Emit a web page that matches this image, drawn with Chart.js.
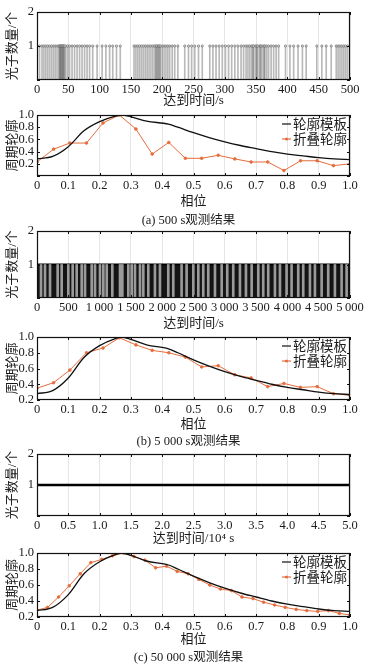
<!DOCTYPE html>
<html>
<head>
<meta charset="utf-8">
<script src="https://cdn.jsdelivr.net/npm/chart.js@4.4.0/dist/chart.umd.min.js"></script>
<style>
  body { margin: 0; background: #fff; width: 369px; height: 669px; position: relative; overflow: hidden; }
  canvas { position: absolute; left: 0; }
  .cap { position: absolute; left: 0; width: 369px; text-align: center; font: 12.5px 'Liberation Serif', 'Noto Sans CJK SC', serif; color: #1a1a1a; line-height: 14px; }
</style>
</head>
<body>
<canvas id="c1" width="369" height="106" style="top:2px"></canvas>
<canvas id="c2" width="369" height="104" style="top:105px"></canvas>
<div class="cap" style="top:213px;left:4px">(a) 500 s观测结果</div>
<canvas id="c3" width="369" height="110" style="top:221px"></canvas>
<canvas id="c4" width="369" height="105" style="top:327px"></canvas>
<div class="cap" style="top:434px;left:4px">(b) 5 000 s观测结果</div>
<canvas id="c5" width="369" height="102" style="top:444px"></canvas>
<canvas id="c6" width="369" height="104" style="top:543px"></canvas>
<div class="cap" style="top:650px;left:4px">(c) 50 000 s观测结果</div>
<script>
// photon arrival times in the 500 s record (s)
const arrivals500 = [4, 8, 11, 14, 17, 20, 23, 26, 29, 32, 35, 36, 37, 38, 39, 40, 41, 42, 43, 44, 46, 49, 52, 56, 60, 64, 68, 72, 76, 80, 84, 89,
  96, 104, 110, 116, 121, 127, 133,
  155, 158, 161, 164, 167, 170, 173, 176, 179, 182, 185, 188, 190, 191, 193, 194, 196, 197, 200, 203, 206, 209, 212, 216, 220, 225,
  236, 242, 247, 252, 258, 264,
  276, 281, 286, 291, 296, 301, 306, 311, 316, 321,
  326, 330, 334, 337, 340, 343, 345, 346, 349, 351, 352, 355, 357, 358, 361, 363, 364, 367, 370, 374, 378, 382, 386,
  397, 404, 410, 417, 424, 430,
  447, 455, 462, 470,
  478, 481, 484, 487, 490, 493, 496];
// 5 000 s record: span of the record and the thin empty stretches between arrivals (s)
const record5000 = [0, 5000];
const gaps5000 = [64, 128, 208, 330, 394, 500, 570, 634, 714, 767, 874, 927, 1006, 1060, 1114, 1203, 1326, 1363, 1459, 1512, 1565, 1645,
  1698, 1778, 1884, 1964, 2097, 2177, 2310, 2390, 2497, 2577, 2656, 2736, 2843, 2950, 3039, 3135, 3242, 3338,
  3429, 3535, 3614, 3694, 3801, 3881, 3987, 4067, 4173, 4253, 4360, 4440, 4547, 4652, 4759, 4866, 4946];
// 50 000 s record: arrivals merge into one continuous run (10^4 s)
const record50000 = [0, 5.0];

// standard pulse profile template
const templatePhase = [0, 0.05, 0.1, 0.15, 0.2, 0.25, 0.27, 0.3, 0.35, 0.42, 0.45, 0.5, 0.55, 0.6, 0.65, 0.7, 0.75, 0.8, 0.85, 0.9, 0.95, 1.0];
const templateValue = [0.28, 0.32, 0.48, 0.74, 0.89, 0.98, 1.0, 0.97, 0.90, 0.85, 0.80, 0.71, 0.63, 0.56, 0.50, 0.45, 0.40, 0.36, 0.33, 0.30, 0.28, 0.27];

// folded profiles
const phase20 = [0, 0.053, 0.105, 0.158, 0.211, 0.263, 0.316, 0.368, 0.421, 0.474, 0.526, 0.579, 0.632, 0.684, 0.737, 0.789, 0.842, 0.895, 0.947, 1.0];
const folded500 = [0.23, 0.44, 0.54, 0.54, 0.87, 1.0, 0.77, 0.36, 0.55, 0.29, 0.29, 0.34, 0.28, 0.23, 0.23, 0.09, 0.25, 0.25, 0.17, 0.20];
const folded5000 = [0.35, 0.42, 0.58, 0.80, 0.86, 0.99, 0.90, 0.83, 0.80, 0.745, 0.62, 0.635, 0.52, 0.48, 0.37, 0.41, 0.36, 0.37, 0.28, 0.26];
const phase30 = [0, 0.034, 0.069, 0.103, 0.138, 0.172, 0.207, 0.241, 0.276, 0.310, 0.345, 0.379, 0.414, 0.448, 0.483, 0.517, 0.552, 0.586,
  0.621, 0.655, 0.690, 0.724, 0.759, 0.793, 0.828, 0.862, 0.897, 0.931, 0.966, 1.0];
const folded50000 = [0.286, 0.32, 0.45, 0.59, 0.74, 0.88, 0.92, 0.965, 1.0, 0.955, 0.91, 0.815, 0.835, 0.77, 0.74, 0.67, 0.60, 0.55, 0.53,
  0.45, 0.43, 0.385, 0.35, 0.32, 0.295, 0.28, 0.27, 0.28, 0.245, 0.225];

const ORANGE = '#e66d3c';
Chart.defaults.font.family = "'Liberation Serif', 'Noto Sans CJK SC', serif";
Chart.defaults.color = '#1a1a1a';

function line(ctx, x1, y1, x2, y2) {
  ctx.beginPath(); ctx.moveTo(x1, y1); ctx.lineTo(x2, y2); ctx.stroke();
}

// black box round the plot with short inward ticks
const framePlugin = {
  id: 'frame',
  afterDatasetsDraw(chart) {
    const { ctx, chartArea: a, scales } = chart;
    ctx.save();
    ctx.strokeStyle = '#111';
    ctx.lineWidth = 1;
    scales.x.ticks.forEach(t => {
      const x = Math.round(scales.x.getPixelForValue(t.value)) + 0.5;
      line(ctx, x, a.bottom, x, a.bottom - 3);
      line(ctx, x, a.top, x, a.top + 3);
    });
    scales.y.ticks.forEach(t => {
      const y = Math.round(scales.y.getPixelForValue(t.value)) + 0.5;
      line(ctx, a.left, y, a.left + 3, y);
      line(ctx, a.right, y, a.right - 3, y);
    });
    ctx.lineWidth = 1.2;
    ctx.strokeRect(Math.round(a.left) + 0.5, Math.round(a.top) + 0.5, Math.round(a.width) - 1, Math.round(a.height) - 1);
    ctx.restore();
  }
};

// legend in the upper right corner of the plot
const keyPlugin = {
  id: 'key',
  afterDraw(chart) {
    const { ctx, chartArea: a } = chart;
    ctx.save();
    ctx.font = "13.5px 'Noto Sans CJK SC'";
    ctx.textAlign = 'right';
    ctx.textBaseline = 'middle';
    chart.data.datasets.forEach((ds, i) => {
      const y = a.top + 9 + i * 15;
      ctx.fillStyle = '#1a1a1a';
      ctx.fillText(ds.label, a.right - 3, y);
      const x1 = a.right - 3 - ctx.measureText(ds.label).width - 2;
      ctx.strokeStyle = ds.borderColor;
      ctx.lineWidth = 1.2;
      line(ctx, x1 - 9, y, x1, y);
      if (ds.pointRadius) {
        ctx.fillStyle = ds.borderColor;
        ctx.beginPath(); ctx.arc(x1 - 4.5, y, 1.5, 0, Math.PI * 2); ctx.fill();
      }
    });
    ctx.restore();
  }
};

function xAxis(min, max, step, title, fmt, height) {
  return {
    type: 'linear', min, max, offset: false,
    ticks: { stepSize: step, padding: 2, autoSkip: false, maxRotation: 0, font: { size: 12.5 }, callback: fmt },
    grid: { color: '#e6e6e6', drawTicks: false, offset: false },
    border: { display: false },
    title: { display: true, text: title, font: { size: 13 }, padding: 0 },
    afterFit: s => { s.height = height; }
  };
}

function yAxis(min, max, step, title, fmt) {
  return {
    min, max,
    ticks: { stepSize: step, padding: 3, autoSkip: false, font: { size: 12.5, lineHeight: 0.7 }, callback: fmt },
    grid: { display: false, drawTicks: false },
    border: { display: false },
    title: { display: true, text: title, font: { size: 13 }, padding: 0 },
    afterFit: s => { s.width = 32; }
  };
}

const countTicks = v => (v === 0 ? '' : String(v));
const phaseTicks = v => (v === 0 ? '0' : v.toFixed(1));
const profTicks = v => (v < 0.1 ? '' : v.toFixed(1));
const thousands = v => (v >= 1000 ? String(v).replace(/(\d)(\d{3})$/, '$1\u2009$2') : String(v));

const baseOptions = (scales) => ({
  responsive: false,
  animation: false,
  layout: { padding: { left: 5, right: 19, top: 10, bottom: 0 } },
  plugins: { legend: { display: false }, tooltip: { enabled: false } },
  scales
});

// (a) 500 s arrivals
new Chart(document.getElementById('c1'), {
  type: 'bar',
  data: {
    datasets: [
      {
        type: 'line', data: arrivals500.map(t => ({ x: t, y: 1 })), showLine: false,
        pointRadius: 1.1, pointBackgroundColor: '#eee', pointBorderColor: '#666', pointBorderWidth: 0.7, order: 0
      },
      {
        data: arrivals500.map(t => ({ x: t, y: 1 })), backgroundColor: 'rgba(80,80,80,0.4)',
        barThickness: 1, order: 1
      }
    ]
  },
  options: baseOptions({
    x: xAxis(0, 500, 50, '达到时间/s', v => String(v), 28),
    y: yAxis(0, 2, 1, '光子数量/个', countTicks)
  }),
  plugins: [framePlugin]
});

function profile(id, phases, values, yMin, xh) {
  new Chart(document.getElementById(id), {
    type: 'line',
    data: {
      datasets: [
        {
          label: '轮廓模板', data: templatePhase.map((p, i) => ({ x: p, y: templateValue[i] })),
          borderColor: '#111', borderWidth: 1.3, pointRadius: 0, cubicInterpolationMode: 'monotone'
        },
        {
          label: '折叠轮廓', data: phases.map((p, i) => ({ x: p, y: values[i] })),
          borderColor: ORANGE, backgroundColor: ORANGE, borderWidth: 1, pointRadius: 1.3, tension: 0
        }
      ]
    },
    options: baseOptions({
      x: xAxis(0, 1, 0.1, '相位', phaseTicks, xh),
      y: yAxis(yMin, 1, 0.2, '周期轮廓', profTicks)
    }),
    plugins: [framePlugin, keyPlugin]
  });
}

profile('c2', phase20, folded500, 0, 33);

// (b) 5 000 s arrivals
new Chart(document.getElementById('c3'), {
  type: 'bar',
  data: {
    datasets: [
      {
        type: 'line', data: record5000.map(t => ({ x: t, y: 1 })), fill: 'origin',
        backgroundColor: '#141414', borderColor: '#000', borderWidth: 2, pointRadius: 0, order: 3
      },
      {
        data: gaps5000.map(t => ({ x: t, y: 1 })), backgroundColor: '#9a9a9a',
        barThickness: 2, order: 1
      }
    ]
  },
  options: baseOptions({
    x: xAxis(0, 5000, 500, '达到时间/s', thousands, 33),
    y: yAxis(0, 2, 1, '光子数量/个', countTicks)
  }),
  plugins: [framePlugin]
});

profile('c4', phase20, folded5000, 0.2, 32);

// (c) 50 000 s arrivals
new Chart(document.getElementById('c5'), {
  type: 'line',
  data: {
    datasets: [{
      data: record50000.map(t => ({ x: t, y: 1 })), borderColor: '#000', borderWidth: 2.5, pointRadius: 0
    }]
  },
  options: baseOptions({
    x: xAxis(0, 5, 0.5, '达到时间/10\u2074 s', phaseTicks, 30),
    y: yAxis(0, 2, 1, '光子数量/个', countTicks)
  }),
  plugins: [framePlugin]
});

profile('c6', phase30, folded50000, 0.2, 30);
</script>
</body>
</html>
